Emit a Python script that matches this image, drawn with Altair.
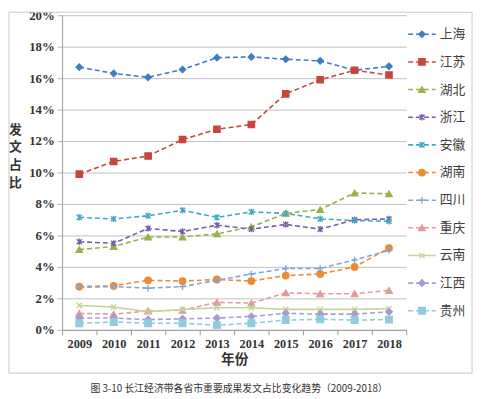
import altair as alt
import pandas as pd

years = [str(y) for y in range(2009, 2019)]
names = ["上海", "江苏", "湖北", "浙江", "安徽", "湖南", "四川", "重庆", "云南", "江西", "贵州"]

shanghai = [16.7, 16.3, 16.05, 16.55, 17.3, 17.35, 17.2, 17.1, 16.5, 16.75]
jiangsu = [9.9, 10.7, 11.05, 12.1, 12.75, 13.05, 15.0, 15.9, 16.5, 16.2]
hubei = [5.1, 5.3, 5.9, 5.9, 6.1, 6.55, 7.4, 7.65, 8.7, 8.65]
zhejiang = [5.6, 5.5, 6.45, 6.25, 6.65, 6.4, 6.7, 6.4, 7.0, 7.05]
anhui = [7.15, 7.05, 7.25, 7.6, 7.15, 7.5, 7.4, 7.05, 6.95, 6.9]
hunan = [2.75, 2.8, 3.15, 3.1, 3.2, 3.1, 3.45, 3.55, 4.0, 5.2]
sichuan = [2.7, 2.75, 2.65, 2.75, 3.15, 3.55, 3.9, 3.9, 4.45, 5.05]
chongqing = [1.05, 1.0, 1.2, 1.25, 1.75, 1.7, 2.35, 2.3, 2.3, 2.5]
yunnan = [1.55, 1.45, 1.15, 1.3, 1.4, 1.4, 1.3, 1.3, 1.3, 1.35]
jiangxi = [0.75, 0.75, 0.65, 0.7, 0.75, 0.85, 1.05, 1.0, 1.0, 1.15]
guizhou = [0.42, 0.5, 0.42, 0.42, 0.3, 0.42, 0.62, 0.67, 0.62, 0.65]

series_values = [shanghai, jiangsu, hubei, zhejiang, anhui, hunan,
                 sichuan, chongqing, yunnan, jiangxi, guizhou]

y_ticks = [0, 2, 4, 6, 8, 10, 12, 14, 16, 18, 20]

colors = ["#3E7CC4", "#C8463C", "#9BB048", "#7A5BAA", "#3FA8C5", "#F08A30",
          "#7FA6DA", "#E29A9A", "#C2D69A", "#A99AD0", "#8FCCE0"]

ASTER = "M-0.8,-0.8L0.8,0.8M-0.8,0.8L0.8,-0.8M0,-1L0,1"
XMARK = "M-0.8,-0.8L0.8,0.8M-0.8,0.8L0.8,-0.8"
PLUS = "M-1,0L1,0M0,-1L0,1"
shapes = ["diamond", "square", "triangle-up", ASTER, ASTER, "circle",
          PLUS, "triangle-up", XMARK, "diamond", "square"]
sizes = [40, 45, 50, 55, 55, 55, 25, 60, 55, 40, 55]
dashes = [[5, 3]] * 8 + [[1, 0]] + [[5, 3]] * 2

caption = "图 3-10 长江经济带各省市重要成果发文占比变化趋势（2009-2018）"

rows = []
for name, vals in zip(names, series_values):
    for y, v in zip(years, vals):
        rows.append({"省市": name, "年份": y, "占比": v})
df = pd.DataFrame(rows)
legend_df = pd.DataFrame({"省市": names})

SERIF = "Liberation Serif"
CJK = "Noto Sans CJK SC"

color_scale = alt.Scale(domain=names, range=colors)
shape_scale = alt.Scale(domain=names, range=shapes)
size_scale = alt.Scale(domain=names, range=sizes)
dash_scale = alt.Scale(domain=names, range=dashes)

x_enc = alt.X(
    "年份:O",
    scale=alt.Scale(type="band", paddingInner=0, paddingOuter=0),
    axis=alt.Axis(
        title="年份", tickBand="extent", labelAngle=0,
        labelFont=SERIF, labelFontWeight="bold", labelFontSize=12.5, labelColor="#333333",
        labelPadding=3, tickSize=5, tickColor="#9a9a9a", domainColor="#9a9a9a",
        titleFont=CJK, titleFontSize=14, titleFontWeight="bold", titleColor="#333333",
        titlePadding=3, grid=False,
    ),
)
y_enc = alt.Y(
    "占比:Q",
    scale=alt.Scale(domain=[0, 20], nice=False),
    axis=alt.Axis(
        values=y_ticks, labelExpr="datum.value + '%'", labelOverlap=False,
        labelFont=SERIF, labelFontWeight="bold", labelFontSize=13, labelColor="#333333",
        labelPadding=3, tickSize=5, tickColor="#b0b0b0", domainColor="#9a9a9a",
        grid=True, gridColor="#c0c0c0", gridWidth=1,
        title=["发", "文", "占", "比"], titleAngle=0, titleX=-48, titleY=110,
        titleAlign="center", titleBaseline="top", titleLineHeight=18,
        titleFont=CJK, titleFontSize=13, titleFontWeight="bold", titleColor="#333333",
    ),
)

color_enc = alt.Color("省市:N", scale=color_scale, legend=None)
stroke_enc = alt.Stroke("省市:N", scale=color_scale, legend=None)
fill_enc = alt.Fill("省市:N", scale=color_scale, legend=None)
shape_enc = alt.Shape("省市:N", scale=shape_scale, legend=None)
size_enc = alt.Size("省市:N", scale=size_scale, legend=None)
dash_enc = alt.StrokeDash("省市:N", scale=dash_scale, legend=None)

base = alt.Chart(df)
lines = base.mark_line(strokeWidth=1.6).encode(
    x=x_enc, y=y_enc, color=color_enc, strokeDash=dash_enc, detail="省市:N"
)
points = base.mark_point(filled=True, strokeWidth=1.4, opacity=1).encode(
    x=x_enc, y=y_enc, fill=fill_enc,
    stroke=stroke_enc, shape=shape_enc, size=size_enc
)
main = alt.layer(lines, points)

ly = alt.Y("省市:N", scale=alt.Scale(type="point", domain=names, padding=0.69), axis=None)
leg_base = alt.Chart(legend_df)
leg_rule = leg_base.mark_rule(strokeWidth=1.6).encode(
    x=alt.value(352), x2=alt.value(380), y=ly, color=color_enc, strokeDash=dash_enc
)
leg_pt = leg_base.mark_point(filled=True, strokeWidth=1.4, opacity=1).encode(
    x=alt.value(366), y=ly, fill=fill_enc,
    stroke=stroke_enc, shape=shape_enc, size=size_enc
)
leg_txt = leg_base.mark_text(align="left", baseline="middle", font=CJK, fontSize=13,
                             color="#404040").encode(
    x=alt.value(384), y=ly, text="省市:N"
)
legend = alt.layer(leg_rule, leg_pt, leg_txt)

frame = alt.Chart(pd.DataFrame({"a": [0]})).mark_rect(
    fillOpacity=0, stroke="#c8c8c8", strokeWidth=1
).encode(x=alt.value(-54), x2=alt.value(417), y=alt.value(-3), y2=alt.value(364))

cap = alt.Chart(pd.DataFrame({"t": [caption]})).mark_text(
    font=CJK, fontSize=10, color="#333333", align="center", baseline="middle"
).encode(x=alt.value(180), y=alt.value(380), text="t:N")

chart = alt.layer(
    frame, main, legend, cap
).resolve_scale(y="independent").properties(
    width=350, height=320,
    padding={"left": 55, "top": 4, "right": 72, "bottom": 67},
    autosize=alt.AutoSizeParams(type="none"),
    background="white",
).configure_view(stroke=None)

chart.save("out.html", embed_options={"renderer": "svg", "actions": False})
